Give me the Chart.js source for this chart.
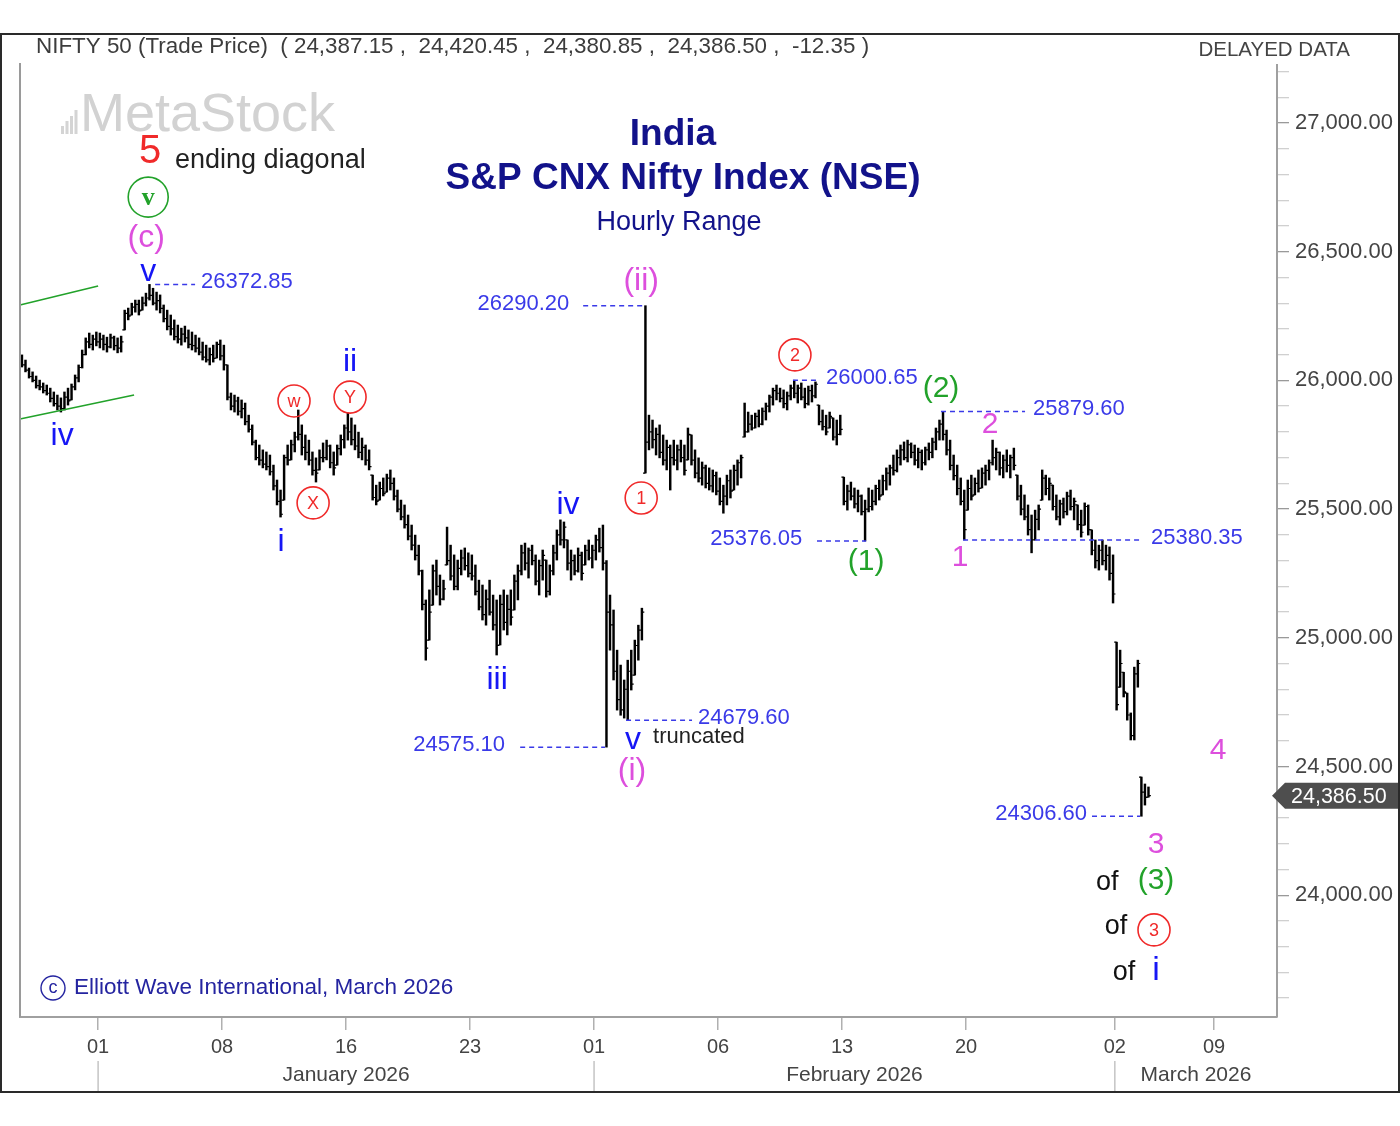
<!DOCTYPE html>
<html>
<head>
<meta charset="utf-8">
<script src="https://cdn.jsdelivr.net/npm/chart.js@4.4.1/dist/chart.umd.min.js"></script>
<style>
  html, body { margin: 0; padding: 0; background: #fff; }
  canvas { display: block; }
</style>
</head>
<body>
<canvas id="myChart" width="1400" height="1126"></canvas>
<script>
const FONT = 'Arial, "Liberation Sans", sans-serif';

// hourly range bars, one row per trading day (7 bars a day)
const highs = [
  26099,                                                  // Dec 26 (last bar)
  26079, 26048, 26033, 26017, 26001, 25990, 25982,        // Dec 29
  25970, 25955, 25943, 25932, 25955, 25970, 25986,        // Dec 30
  26021, 26060, 26118, 26165, 26184, 26176, 26188,        // Dec 31
  26184, 26176, 26168, 26180, 26172, 26165, 26172,        // Jan 01
  26273, 26281, 26300, 26312, 26312, 26324, 26339,        // Jan 02
  26372.85, 26358, 26343, 26332, 26293, 26273, 26254,     // Jan 05
  26235, 26215, 26203, 26211, 26196, 26188, 26176,        // Jan 06
  26165, 26149, 26137, 26126, 26137, 26149, 26157,        // Jan 07
  26137, 26060, 25951, 25943, 25935, 25924, 25912,        // Jan 08
  25865, 25827, 25768, 25749, 25730, 25722, 25710,        // Jan 09
  25671, 25613, 25574, 25710, 25749, 25768, 25799,        // Jan 12
  25885, 25827, 25788, 25768, 25722, 25699, 25730,        // Jan 13
  25757, 25768, 25749, 25722, 25749, 25788, 25827,        // Jan 14
  25873, 25854, 25827, 25799, 25776, 25749, 25730,        // Jan 16
  25632, 25593, 25605, 25621, 25636, 25652, 25621,        // Jan 19
  25574, 25535, 25516, 25477, 25438, 25399, 25360,        // Jan 20
  25263, 25147, 25186, 25283, 25302, 25244, 25224,        // Jan 21
  25430, 25360, 25322, 25302, 25341, 25349, 25330,        // Jan 22
  25322, 25283, 25224, 25205, 25186, 25224, 25166,        // Jan 23
  25147, 25166, 25186, 25166, 25186, 25244, 25283,        // Jan 27
  25360, 25368, 25349, 25360, 25322, 25302, 25341,        // Jan 28
  25302, 25283, 25360, 25419, 25458, 25450, 25380,        // Jan 29
  25341, 25322, 25349, 25333, 25360, 25380, 25360,        // Jan 30
  25399, 25426, 25438, 25300, 25166, 25108, 24952,        // Feb 01
  24894, 24836, 24913, 24952, 24991, 25049, 25115,        // Feb 02
  26290.20, 25865, 25846, 25815, 25827, 25788, 25768,     // Feb 03
  25749, 25768, 25749, 25768, 25749, 25815, 25788,        // Feb 04
  25730, 25699, 25683, 25671, 25660, 25652, 25644,        // Feb 05
  25621, 25593, 25632, 25652, 25671, 25691, 25710,        // Feb 06
  25912, 25877, 25865, 25873, 25885, 25893, 25912,        // Feb 09
  25943, 25970, 25982, 25970, 25963, 25955, 25982,        // Feb 10
  26000.65, 25982, 25990, 25970, 25978, 25982, 25994,     // Feb 11
  25904, 25885, 25865, 25877, 25854, 25846, 25865,        // Feb 12
  25624, 25593, 25605, 25582, 25574, 25555, 25535,        // Feb 13
  25582, 25574, 25593, 25613, 25632, 25660, 25671,        // Feb 16
  25710, 25730, 25749, 25761, 25768, 25757, 25749,        // Feb 17
  25737, 25730, 25741, 25757, 25776, 25815, 25846,        // Feb 18
  25879.60, 25807, 25768, 25710, 25671, 25621, 25574,     // Feb 19
  25613, 25632, 25621, 25652, 25660, 25671, 25691,        // Feb 20
  25768, 25737, 25722, 25710, 25730, 25710, 25737,        // Feb 23
  25632, 25593, 25555, 25516, 25477, 25496, 25516,        // Feb 24
  25652, 25632, 25621, 25593, 25555, 25535, 25543,        // Feb 25
  25566, 25574, 25543, 25516, 25496, 25524, 25516,        // Feb 26
  25419, 25380, 25360, 25380, 25360, 25353, 25322,        // Feb 27
  24983, 24952, 24866, 24785, 24708, 24886, 24913,        // Mar 02
  24459, 24432, 24420.45                                  // Mar 04
];

const lows = [
  26052,
  26033, 26009, 25994, 25970, 25963, 25951, 25943,
  25916, 25900, 25885, 25877, 25885, 25904, 25924,
  25963, 25994, 26048, 26099, 26126, 26118, 26134,
  26126, 26118, 26110, 26126, 26118, 26107, 26110,
  26196, 26235, 26254, 26265, 26254, 26273, 26289,
  26312, 26293, 26273, 26262, 26227, 26196, 26176,
  26157, 26145, 26137, 26149, 26126, 26118, 26110,
  26099, 26079, 26071, 26060, 26071, 26087, 26079,
  26040, 25924, 25885, 25877, 25865, 25854, 25827,
  25799, 25749, 25691, 25671, 25660, 25652, 25632,
  25574, 25516, 25469, 25535, 25671, 25691, 25722,
  25768, 25710, 25691, 25671, 25632, 25605, 25652,
  25683, 25691, 25660, 25632, 25671, 25710, 25737,
  25768, 25749, 25730, 25699, 25691, 25671, 25652,
  25535, 25516, 25535, 25551, 25566, 25574, 25535,
  25489, 25458, 25426, 25380, 25341, 25302, 25244,
  25108, 24913, 24991, 25127, 25166, 25127, 25147,
  25283, 25224, 25186, 25186, 25244, 25263, 25236,
  25224, 25166, 25108, 25069, 25049, 25088, 25030,
  24933, 24972, 25030, 25011, 25049, 25108, 25147,
  25244, 25263, 25232, 25283, 25205, 25166, 25224,
  25158, 25166, 25244, 25302, 25360, 25349, 25263,
  25224, 25244, 25255, 25224, 25283, 25302, 25271,
  25302, 25333, 25263, 24575.10, 24952, 24836, 24719,
  24699, 24688, 24679.60, 24797, 24855, 24913, 24991,
  25640, 25730, 25737, 25710, 25699, 25671, 25652,
  25574, 25671, 25652, 25683, 25632, 25691, 25671,
  25621, 25605, 25593, 25582, 25574, 25566, 25555,
  25516, 25484, 25516, 25543, 25574, 25593, 25621,
  25780, 25799, 25807, 25815, 25819, 25827, 25846,
  25877, 25904, 25924, 25916, 25893, 25885, 25924,
  25932, 25912, 25924, 25893, 25904, 25916, 25932,
  25827, 25807, 25788, 25815, 25768, 25749, 25788,
  25516, 25496, 25535, 25504, 25489, 25477, 25376.05,
  25489, 25496, 25516, 25535, 25555, 25574, 25593,
  25632, 25644, 25671, 25691, 25683, 25699, 25671,
  25660, 25652, 25671, 25691, 25699, 25730, 25768,
  25768, 25710, 25652, 25613, 25555, 25516, 25380.35,
  25496, 25535, 25555, 25566, 25582, 25593, 25613,
  25671, 25652, 25632, 25621, 25644, 25621, 25652,
  25535, 25477, 25458, 25399, 25330, 25380, 25419,
  25535, 25555, 25535, 25496, 25458, 25438, 25465,
  25477, 25496, 25458, 25419, 25391, 25438, 25399,
  25322, 25271, 25263, 25283, 25263, 25224, 25135,
  24719, 24808, 24770, 24680, 24603, 24603, 24808,
  24306.60, 24350, 24380.85
];

const closes = [
  26060,
  26040, 26015, 26000, 25980, 25975, 25960, 25950,
  25930, 25910, 25900, 25890, 25935, 25920, 25975,
  26010, 26050, 26100, 26150, 26140, 26160, 26150,
  26160, 26140, 26130, 26165, 26135, 26125, 26150,
  26260, 26250, 26285, 26295, 26270, 26300, 26320,
  26330, 26300, 26310, 26280, 26240, 26210, 26200,
  26170, 26160, 26180, 26165, 26140, 26135, 26125,
  26110, 26090, 26080, 26100, 26085, 26140, 26095,
  26060, 25935, 25900, 25920, 25880, 25890, 25840,
  25810, 25760, 25700, 25690, 25675, 25665, 25645,
  25590, 25530, 25480, 25700, 25690, 25750, 25780,
  25790, 25740, 25720, 25690, 25650, 25640, 25700,
  25700, 25745, 25680, 25660, 25735, 25770, 25815,
  25800, 25770, 25745, 25720, 25740, 25690, 25665,
  25545, 25530, 25580, 25560, 25620, 25600, 25550,
  25500, 25470, 25440, 25395, 25360, 25320, 25260,
  25130, 24960, 25100, 25260, 25200, 25150, 25190,
  25300, 25240, 25200, 25270, 25310, 25280, 25250,
  25240, 25180, 25120, 25090, 25150, 25100, 25050,
  24970, 25130, 25060, 25110, 25080, 25220, 25260,
  25330, 25290, 25340, 25300, 25220, 25280, 25320,
  25180, 25260, 25330, 25400, 25380, 25430, 25290,
  25300, 25260, 25320, 25250, 25340, 25310, 25340,
  25380, 25350, 25290, 25100, 25050, 24870, 24760,
  24720, 24800, 24870, 24820, 24970, 25030, 25100,
  25760, 25800, 25770, 25790, 25720, 25690, 25740,
  25700, 25690, 25730, 25700, 25650, 25790, 25690,
  25640, 25620, 25660, 25600, 25590, 25630, 25570,
  25530, 25550, 25610, 25570, 25650, 25680, 25700,
  25800, 25830, 25815, 25860, 25830, 25880, 25900,
  25935, 25960, 25950, 25930, 25910, 25940, 25970,
  25950, 25970, 25935, 25910, 25960, 25940, 25985,
  25840, 25820, 25800, 25860, 25780, 25790, 25810,
  25530, 25570, 25550, 25520, 25550, 25490, 25500,
  25510, 25530, 25580, 25550, 25610, 25640, 25660,
  25650, 25700, 25730, 25700, 25750, 25720, 25690,
  25720, 25680, 25730, 25720, 25760, 25800, 25830,
  25790, 25730, 25670, 25630, 25580, 25530, 25420,
  25580, 25550, 25600, 25580, 25640, 25650, 25680,
  25700, 25720, 25660, 25690, 25670, 25700, 25670,
  25550, 25500, 25470, 25420, 25380, 25460, 25500,
  25620, 25580, 25600, 25510, 25470, 25520, 25490,
  25550, 25510, 25530, 25440, 25410, 25510, 25420,
  25340, 25300, 25340, 25300, 25320, 25250, 25170,
  24740, 24900, 24790, 24700, 24620, 24860, 24900,
  24400, 24380, 24386.50
];

const firstBarDay = -3 - 1 / 7;   // day 0 = Jan 01, counted in trading days
const barsPerDay = 7;

const xTickDays = [0, 5, 10, 15, 20, 25, 30, 35, 41, 45];
const xTickLabels = ['01', '08', '16', '23', '01', '06', '13', '20', '02', '09'];
const monthNames = ['January 2026', 'February 2026', 'March 2026'];
const monthStartDays = [0, 20, 41];
const yLabelTicks = [24000, 24500, 25000, 25500, 26000, 26500, 27000];
const lastPrice = 24386.50;

const BLUE = '#1616f5';
const LEVEL_BLUE = '#3a3ae8';
const MAGENTA = '#dd4fdd';
const GREEN = '#22a22a';
const RED = '#f02a2a';
const NAVY = '#12128a';

// wave labels, placed in day / price units
const waveLabels = [
  { t: '5', d: 2.10, p: 26887, c: RED, s: 40 },
  { t: 'ending diagonal', d: 3.10, p: 26856, c: '#222', s: 27, a: 'left' },
  { t: 'v', d: 2.02, p: 26712, c: GREEN, s: 26, r: 20, serif: true },
  { t: '(c)', d: 1.94, p: 26553, c: MAGENTA, s: 32 },
  { t: 'v', d: 2.02, p: 26421, c: BLUE, s: 32 },
  { t: 'iv', d: -1.45, p: 25784, c: BLUE, s: 32 },
  { t: 'i', d: 7.38, p: 25372, c: BLUE, s: 32 },
  { t: 'w', d: 7.90, p: 25920, c: RED, s: 18, r: 16 },
  { t: 'X', d: 8.67, p: 25524, c: RED, s: 18, r: 16 },
  { t: 'Y', d: 10.16, p: 25935, c: RED, s: 18, r: 16 },
  { t: 'ii', d: 10.16, p: 26071, c: BLUE, s: 32 },
  { t: 'iii', d: 16.09, p: 24836, c: BLUE, s: 32 },
  { t: 'iv', d: 18.95, p: 25516, c: BLUE, s: 32 },
  { t: '(ii)', d: 21.9, p: 26386, c: MAGENTA, s: 32 },
  { t: '1', d: 21.9, p: 25543, c: RED, s: 18, r: 16 },
  { t: 'v', d: 21.57, p: 24603, c: BLUE, s: 32 },
  { t: 'truncated', d: 22.38, p: 24614, c: '#222', s: 22, a: 'left' },
  { t: '(i)', d: 21.53, p: 24482, c: MAGENTA, s: 32 },
  { t: '2', d: 28.1, p: 26099, c: RED, s: 18, r: 16 },
  { t: '(1)', d: 30.97, p: 25294, c: GREEN, s: 30 },
  { t: '(2)', d: 33.99, p: 25966, c: GREEN, s: 30 },
  { t: '2', d: 35.97, p: 25827, c: MAGENTA, s: 30 },
  { t: '1', d: 34.76, p: 25310, c: MAGENTA, s: 30 },
  { t: '3', d: 42.66, p: 24195, c: MAGENTA, s: 30 },
  { t: '4', d: 45.16, p: 24560, c: MAGENTA, s: 30 },
  { t: 'of', d: 40.69, p: 24051, c: '#111', s: 27 },
  { t: '(3)', d: 42.66, p: 24055, c: GREEN, s: 30 },
  { t: 'of', d: 41.05, p: 23880, c: '#111', s: 27 },
  { t: '3', d: 42.58, p: 23865, c: RED, s: 18, r: 16 },
  { t: 'of', d: 41.37, p: 23698, c: '#111', s: 27 },
  { t: 'i', d: 42.66, p: 23705, c: BLUE, s: 34 }
];

// dashed price levels: from day d0 to d1, label at ld
const levelPrices = [26372.85, 24575.10, 26290.20, 24679.60, 25376.05, 26000.65, 25879.60, 25380.35, 24306.60];
const levelFrom   = [2.30, 17.02, 19.56, 21.29, 28.99, 28.02, 33.99, 34.88, 40.08];
const levelTo     = [3.91, 20.44, 21.98, 23.95, 30.97, 29.11, 37.38, 42.02, 42.02];
const levelLabelAt = [4.15, 16.41, 19.00, 24.19, 28.39, 29.35, 37.70, 42.46, 39.88];
const levelAlign  = ['left', 'right', 'right', 'left', 'right', 'left', 'left', 'left', 'right'];

// ending diagonal channel
const channelLines = [
  { d0: -3.15, p0: 26293, d1: 0, p1: 26367 },
  { d0: -3.15, p0: 25850, d1: 1.45, p1: 25943 }
];

const barData = highs.map((h, i) => ({
  x: firstBarDay + (i + 0.5) / barsPerDay,
  y: [lows[i], h]
}));

function drawText(ctx, text, x, y, font, color, align) {
  ctx.font = font;
  ctx.fillStyle = color;
  ctx.textAlign = align || 'center';
  ctx.textBaseline = 'middle';
  ctx.fillText(text, x, y);
}

const extras = {
  id: 'extras',
  beforeDraw(chart) {
    const ctx = chart.ctx;
    ctx.save();
    ctx.fillStyle = '#fff';
    ctx.fillRect(0, 0, chart.width, chart.height);

    // watermark
    ctx.fillStyle = '#d4d4d4';
    [8, 13, 18, 24].forEach((h, i) => ctx.fillRect(61 + i * 4.5, 134 - h, 3, h));
    drawText(ctx, 'MetaStock', 80, 116, '54px ' + FONT, '#d2d2d2', 'left');
    ctx.restore();
  },
  afterDatasetsDraw(chart) {
    const ctx = chart.ctx;
    const xs = chart.scales.x, ys = chart.scales.y;
    ctx.save();

    // open / close ticks
    ctx.strokeStyle = '#000';
    ctx.lineWidth = 1.2;
    ctx.beginPath();
    barData.forEach((b, i) => {
      const x = xs.getPixelForValue(b.x);
      if (i > 0) {
        const o = Math.min(Math.max(closes[i - 1], lows[i]), highs[i]);
        const yo = ys.getPixelForValue(o);
        ctx.moveTo(x - 2.4, yo); ctx.lineTo(x, yo);
      }
      const yc = ys.getPixelForValue(closes[i]);
      ctx.moveTo(x, yc); ctx.lineTo(x + 2.4, yc);
    });
    ctx.stroke();

    // channel
    ctx.strokeStyle = GREEN;
    ctx.lineWidth = 1.6;
    channelLines.forEach(l => {
      ctx.beginPath();
      ctx.moveTo(xs.getPixelForValue(l.d0), ys.getPixelForValue(l.p0));
      ctx.lineTo(xs.getPixelForValue(l.d1), ys.getPixelForValue(l.p1));
      ctx.stroke();
    });

    // dashed levels
    levelPrices.forEach((p, i) => {
      const y = ys.getPixelForValue(p);
      ctx.strokeStyle = LEVEL_BLUE;
      ctx.lineWidth = 1.5;
      ctx.setLineDash([5, 4]);
      ctx.beginPath();
      ctx.moveTo(xs.getPixelForValue(levelFrom[i]), y);
      ctx.lineTo(xs.getPixelForValue(levelTo[i]), y);
      ctx.stroke();
      ctx.setLineDash([]);
      drawText(ctx, p.toFixed(2), xs.getPixelForValue(levelLabelAt[i]), y - 2,
        '22px ' + FONT, LEVEL_BLUE, levelAlign[i]);
    });

    // wave labels
    waveLabels.forEach(w => {
      const x = xs.getPixelForValue(w.d), y = ys.getPixelForValue(w.p);
      if (w.r) {
        ctx.strokeStyle = w.c;
        ctx.lineWidth = 1.6;
        ctx.beginPath();
        ctx.arc(x, y, w.r, 0, Math.PI * 2);
        ctx.stroke();
      }
      const fam = w.serif ? '"Liberation Serif", "Times New Roman", serif' : FONT;
      drawText(ctx, w.t, x, y + (w.r ? 1 : 0), (w.serif ? 'bold ' : '') + w.s + 'px ' + fam, w.c, w.a);
    });
    ctx.restore();
  },
  afterDraw(chart) {
    const ctx = chart.ctx;
    const area = chart.chartArea;
    const xs = chart.scales.x, ys = chart.scales.y;
    ctx.save();

    // left edge of the plot
    ctx.strokeStyle = '#9a9a9a';
    ctx.lineWidth = 2;
    ctx.beginPath();
    ctx.moveTo(area.left, area.top - 2);
    ctx.lineTo(area.left, area.bottom);
    ctx.stroke();

    // month row
    ctx.strokeStyle = '#c4c4c4';
    ctx.lineWidth = 1.5;
    monthStartDays.forEach(d => {
      const x = xs.getPixelForValue(d);
      ctx.beginPath();
      ctx.moveTo(x, 1061); ctx.lineTo(x, 1092);
      ctx.stroke();
    });
    monthNames.forEach((m, i) => {
      const end = i + 1 < monthStartDays.length ? monthStartDays[i + 1] : xs.max;
      const x = xs.getPixelForValue((monthStartDays[i] + end) / 2);
      drawText(ctx, m, x, 1075, '21px ' + FONT, '#444');
    });

    // header
    drawText(ctx, 'NIFTY 50 (Trade Price)  ( 24,387.15 ,  24,420.45 ,  24,380.85 ,  24,386.50 ,  -12.35 )',
      36, 47, '22.4px ' + FONT, '#3c3c3c', 'left');
    drawText(ctx, 'DELAYED DATA', 1350, 50, '20.5px ' + FONT, '#444', 'right');

    // title
    drawText(ctx, 'India', 673, 135, 'bold 37px ' + FONT, NAVY);
    drawText(ctx, 'S&P CNX Nifty Index (NSE)', 683, 179, 'bold 37px ' + FONT, NAVY);
    drawText(ctx, 'Hourly Range', 679, 223, '27px ' + FONT, NAVY);

    // copyright
    ctx.strokeStyle = '#2424a0';
    ctx.lineWidth = 1.4;
    ctx.beginPath();
    ctx.arc(53, 988, 12, 0, Math.PI * 2);
    ctx.stroke();
    drawText(ctx, 'c', 53, 988, '18px ' + FONT, '#2424a0');
    drawText(ctx, 'Elliott Wave International, March 2026', 74, 988, '22.5px ' + FONT, '#2424a0', 'left');

    // last price tag
    const yp = ys.getPixelForValue(lastPrice);
    ctx.fillStyle = '#4e4e4e';
    ctx.beginPath();
    ctx.moveTo(area.right - 5, yp);
    ctx.lineTo(area.right + 8, yp - 13);
    ctx.lineTo(1400, yp - 13);
    ctx.lineTo(1400, yp + 13);
    ctx.lineTo(area.right + 8, yp + 13);
    ctx.closePath();
    ctx.fill();
    drawText(ctx, lastPrice.toLocaleString('en-US', { minimumFractionDigits: 2 }), 1291, yp + 1,
      '21.5px ' + FONT, '#fff', 'left');

    // outer frame
    ctx.strokeStyle = '#2a2a2a';
    ctx.lineWidth = 2;
    ctx.strokeRect(1, 34, 1398, 1058);
    ctx.restore();
  }
};

const myChart = document.getElementById('myChart');
new Chart(myChart, {
  type: 'bar',
  data: {
    datasets: [{
      data: barData,
      backgroundColor: '#000',
      borderWidth: 0,
      barThickness: 1.8
    }]
  },
  options: {
    responsive: false,
    animation: false,
    events: [],
    layout: { padding: { left: 20, top: 65, right: 0, bottom: 0 } },
    plugins: { legend: { display: false }, tooltip: { enabled: false } },
    scales: {
      x: {
        type: 'linear',
        min: -3.15,
        max: 47.54,
        offset: false,
        afterBuildTicks: scale => { scale.ticks = xTickDays.map(v => ({ value: v })); },
        afterFit: scale => { scale.height = 109; },
        ticks: {
          autoSkip: false,
          maxRotation: 0,
          padding: 5,
          color: '#444',
          font: { family: FONT, size: 20 },
          callback: v => xTickLabels[xTickDays.indexOf(v)]
        },
        grid: { offset: false, drawOnChartArea: false, tickLength: 13, color: '#b0b0b0', lineWidth: 1.5 },
        border: { color: '#a0a0a0', width: 2 }
      },
      y: {
        position: 'right',
        min: 23526.7,
        max: 27225.3,
        afterBuildTicks: scale => {
          const t = [];
          for (let v = 23600; v <= 27200; v += 100) t.push({ value: v });
          scale.ticks = t;
        },
        afterFit: scale => { scale.width = 123; },
        ticks: {
          autoSkip: false,
          padding: 6,
          color: '#444',
          font: { family: FONT, size: 22 },
          callback: v => yLabelTicks.includes(v) ? v.toLocaleString('en-US', { minimumFractionDigits: 2 }) : ''
        },
        grid: {
          offset: false,
          drawOnChartArea: false,
          tickLength: 12,
          lineWidth: 1.3,
          tickColor: c => (c.tick && c.tick.value % 500 === 0) ? '#9a9a9a' : '#d0d0d0'
        },
        border: { color: '#a0a0a0', width: 2 }
      }
    }
  },
  plugins: [extras]
});
</script>
</body>
</html>
